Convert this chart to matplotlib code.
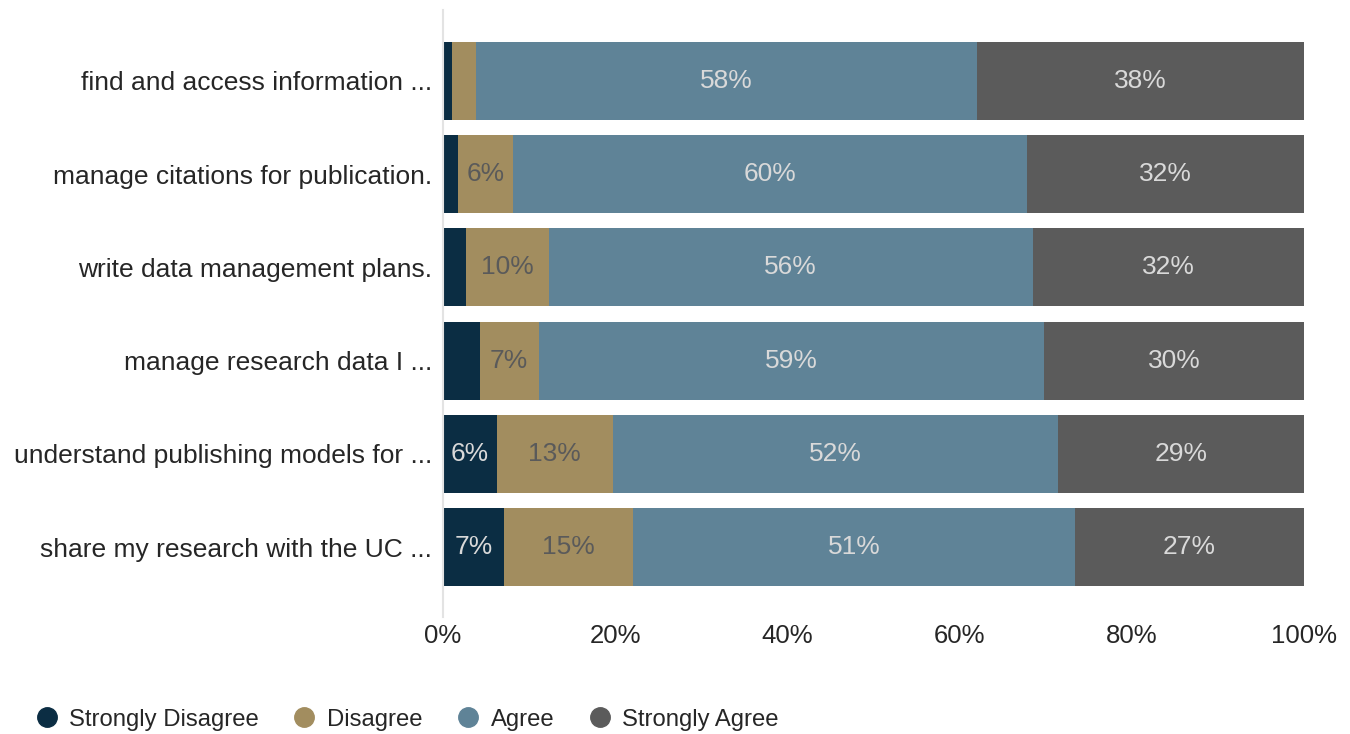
import matplotlib.pyplot as plt
from matplotlib.lines import Line2D

plt.rcParams['font.family'] = ['Liberation Sans', 'DejaVu Sans']

# survey statements, top to bottom
statements = [
    "find and access information ...",
    "manage citations for publication.",
    "write data management plans.",
    "manage research data I ...",
    "understand publishing models for ...",
    "share my research with the UC ...",
]
categories = ["Strongly Disagree", "Disagree", "Agree", "Strongly Agree"]

# percentages per response category
strongly_disagree = [1.1, 1.8, 2.7, 4.3, 6.3, 7.1]
disagree = [2.7, 6.3, 9.6, 6.8, 13.4, 15.0]
agree = [58.2, 59.7, 56.2, 58.7, 51.7, 51.3]
strongly_agree = [38.0, 32.2, 31.5, 30.2, 28.6, 26.6]

colors = ["#0b2d43", "#a28d5f", "#5f8397", "#5b5b5b"]
label_colors = ["#d9d9d9", "#5a5a5a", "#d9d9d9", "#d9d9d9"]

fig = plt.figure(figsize=(13.5, 7.34), dpi=100)
ax = fig.add_axes([0.3281, 0.1594, 0.6378, 0.827])

series = [strongly_disagree, disagree, agree, strongly_agree]
ypos = list(range(len(statements)))
left = [0.0] * len(statements)
for vals, col, lcol in zip(series, colors, label_colors):
    bars = ax.barh(ypos, vals, left=left, height=0.837, color=col, linewidth=0)
    for b, v in zip(bars, vals):
        if v >= 5:
            ax.text(b.get_x() + b.get_width() / 2, b.get_y() + b.get_height() / 2,
                    f"{round(v)}%", ha="center", va="center", color=lcol, fontsize=19)
    left = [l + v for l, v in zip(left, vals)]

ax.set_xlim(0, 100)
ax.set_ylim(5.75, -0.76)
ax.set_yticks(ypos)
ax.set_yticklabels(statements, fontsize=19, color="#262626")
ax.set_xticks([0, 20, 40, 60, 80, 100])
ax.set_xticklabels([f"{t}%" for t in [0, 20, 40, 60, 80, 100]], fontsize=18.5, color="#262626")
ax.tick_params(axis="y", length=0, pad=8)
ax.tick_params(axis="x", length=0, pad=5)
for s in ["top", "right", "bottom"]:
    ax.spines[s].set_visible(False)
ax.spines["left"].set_color("#e3e3e3")
ax.spines["left"].set_linewidth(1.5)

handles = [Line2D([], [], marker="o", linestyle="", markersize=14,
                  markerfacecolor=c, markeredgecolor=c) for c in colors]
fig.legend(handles, categories, loc="lower left", bbox_to_anchor=(0.008, -0.025),
           ncol=4, frameon=False, fontsize=17.2, handletextpad=0.35, columnspacing=1.3,
           handlelength=1.2, labelcolor="#262626")

fig.savefig("out.png", dpi=100)
